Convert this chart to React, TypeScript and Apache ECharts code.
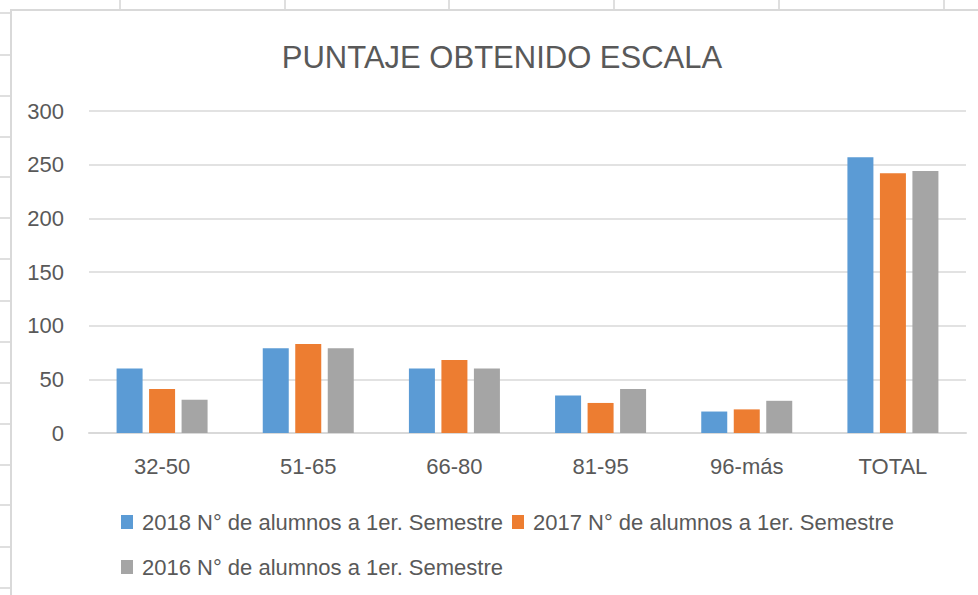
import React, { useEffect, useRef } from "react";
import * as echarts from "echarts";

const categories = ["32-50", "51-65", "66-80", "81-95", "96-más", "TOTAL"];
const s2018 = [60, 79, 60, 35, 20, 257];
const s2017 = [41, 83, 68, 28, 22, 242];
const s2016 = [31, 79, 60, 41, 30, 244];
const seriesNames = [
  "2018 N° de alumnos a 1er. Semestre",
  "2017 N° de alumnos a 1er. Semestre",
  "2016 N° de alumnos a 1er. Semestre",
];
const colors = ["#5B9BD5", "#ED7D31", "#A5A5A5"];
const yTicks = { min: 0, max: 300, interval: 50 };

const FONT = "'Liberation Sans', Arial, sans-serif";
const TXT = "#595959";

export default function App() {
  const ref = useRef<HTMLDivElement>(null);
  useEffect(() => {
    document.body.style.margin = "0";
    if (!ref.current) return;
    const chart = echarts.init(ref.current, undefined, { renderer: "svg" });
    const sheetLines: any[] = [];
    [120, 285, 449, 614, 779, 944].forEach((x) =>
      sheetLines.push({
        type: "line",
        shape: { x1: x, y1: 0, x2: x, y2: 10 },
        style: { stroke: "#D4D4D4", lineWidth: 1.5 },
        silent: true,
      })
    );
    [13, 55, 96, 137, 177, 218, 259, 301, 342, 383, 424, 465, 505, 547, 588].forEach((y) =>
      sheetLines.push({
        type: "line",
        shape: { x1: 0, y1: y, x2: 10, y2: y },
        style: { stroke: "#D4D4D4", lineWidth: 1.5 },
        silent: true,
      })
    );
    sheetLines.push({
      type: "polyline",
      shape: { points: [[11, 600], [11, 10], [990, 10]] },
      style: { stroke: "#D9D9D9", lineWidth: 2, fill: "none" },
      silent: true,
    });
    const data = [s2018, s2017, s2016];
    const legendBase = {
      left: 121,
      itemWidth: 12,
      itemHeight: 14,
      itemGap: 9,
      padding: 0,
      icon: "rect",
      textStyle: { fontFamily: FONT, fontSize: 22, color: TXT, padding: [0, 0, 0, 4] },
    };
    chart.setOption({
      animation: false,
      color: colors,
      textStyle: { fontFamily: FONT },
      title: {
        text: "PUNTAJE OBTENIDO ESCALA",
        left: 497,
        textAlign: "center",
        top: 37,
        textStyle: { fontFamily: FONT, fontSize: 31, fontWeight: "normal", color: TXT },
      },
      graphic: sheetLines,
      legend: [
        { ...legendBase, data: [seriesNames[0], seriesNames[1]], top: 511 },
        { ...legendBase, data: [seriesNames[2]], top: 556 },
      ],
      grid: { left: 89, right: 12, top: 111, bottom: 162, containLabel: false },
      xAxis: {
        type: "category",
        data: categories,
        axisLine: { lineStyle: { color: "#D9D9D9", width: 2 } },
        axisTick: { show: false },
        axisLabel: { color: TXT, fontSize: 22, fontFamily: FONT, margin: 22 },
      },
      yAxis: {
        type: "value",
        min: yTicks.min,
        max: yTicks.max,
        interval: yTicks.interval,
        axisLine: { show: false },
        axisTick: { show: false },
        axisLabel: { color: TXT, fontSize: 22, fontFamily: FONT, margin: 25 },
        splitLine: { lineStyle: { color: "#D9D9D9", width: 1.5 } },
      },
      series: data.map((d, i) => ({
        name: seriesNames[i],
        type: "bar",
        data: d,
        barWidth: 26,
        barGap: "25%",
        itemStyle: { color: colors[i] },
      })),
    });
    return () => chart.dispose();
  }, []);
  return <div ref={ref} style={{ width: 978, height: 595 }} />;
}
